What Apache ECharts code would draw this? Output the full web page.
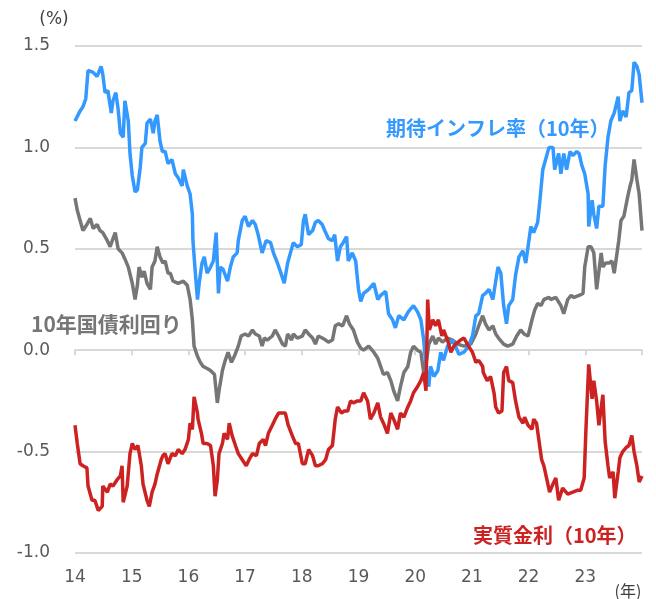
<!DOCTYPE html>
<html>
<head>
<meta charset="utf-8">
<script src="https://cdn.jsdelivr.net/npm/echarts@6/dist/echarts.min.js"></script>
<style>
  html, body { margin: 0; padding: 0; background: #fff; }
  #chart { width: 656px; height: 599px; }
</style>
</head>
<body>
<div id="chart"></div>
<script>
// 年ラベル（横軸）
var yearLabels = ['14', '15', '16', '17', '18', '19', '20', '21', '22', '23']

// 期待インフレ率（10年） [年, %]
var bei = [
  [2014.00,1.13],[2014.09,1.18],[2014.14,1.20],[2014.19,1.24],[2014.23,1.38],[2014.32,1.37],[2014.39,1.35],[2014.46,1.40],
  [2014.49,1.36],[2014.53,1.27],[2014.58,1.28],[2014.64,1.17],[2014.67,1.23],[2014.72,1.27],[2014.76,1.19],[2014.80,1.07],
  [2014.85,1.05],[2014.88,1.23],[2014.94,1.13],[2014.97,0.97],[2015.01,0.86],[2015.06,0.78],[2015.10,0.79],[2015.15,0.90],
  [2015.18,1.00],[2015.24,1.02],[2015.27,1.12],[2015.33,1.14],[2015.38,1.07],[2015.41,1.13],[2015.45,1.16],[2015.50,1.03],
  [2015.54,0.98],[2015.59,0.98],[2015.64,0.92],[2015.71,0.94],[2015.77,0.87],[2015.82,0.85],[2015.89,0.81],[2015.91,0.89],
  [2015.98,0.81],[2016.03,0.77],[2016.07,0.67],[2016.08,0.54],[2016.12,0.39],[2016.16,0.25],[2016.19,0.33],[2016.24,0.43],
  [2016.28,0.46],[2016.33,0.38],[2016.39,0.41],[2016.44,0.44],[2016.49,0.58],[2016.53,0.28],[2016.56,0.41],[2016.61,0.40],
  [2016.69,0.34],[2016.74,0.41],[2016.79,0.46],[2016.86,0.48],[2016.88,0.54],[2016.95,0.64],[2017.00,0.66],[2017.06,0.61],
  [2017.13,0.64],[2017.18,0.62],[2017.23,0.57],[2017.30,0.48],[2017.37,0.54],[2017.45,0.53],[2017.50,0.48],[2017.57,0.43],
  [2017.62,0.39],[2017.69,0.33],[2017.75,0.43],[2017.80,0.48],[2017.85,0.53],[2017.92,0.51],[2017.99,0.52],[2018.03,0.64],
  [2018.06,0.67],[2018.12,0.57],[2018.19,0.59],[2018.24,0.63],[2018.29,0.64],[2018.36,0.62],[2018.42,0.58],[2018.47,0.55],
  [2018.54,0.54],[2018.58,0.57],[2018.63,0.44],[2018.68,0.51],[2018.73,0.53],[2018.79,0.56],[2018.82,0.44],[2018.89,0.48],
  [2018.95,0.44],[2019.00,0.30],[2019.04,0.24],[2019.09,0.28],[2019.18,0.30],[2019.27,0.33],[2019.34,0.25],[2019.39,0.27],
  [2019.48,0.29],[2019.53,0.18],[2019.60,0.15],[2019.65,0.11],[2019.71,0.17],[2019.80,0.15],[2019.88,0.19],[2019.97,0.22],
  [2020.04,0.19],[2020.10,0.15],[2020.15,0.05],[2020.20,-0.11],[2020.24,-0.18],[2020.27,-0.08],[2020.33,-0.13],[2020.40,-0.10],
  [2020.45,-0.01],[2020.50,-0.05],[2020.57,0.02],[2020.66,0.05],[2020.71,0.02],[2020.77,-0.02],[2020.86,-0.01],[2020.94,0.02],
  [2021.01,0.07],[2021.07,0.17],[2021.12,0.18],[2021.19,0.27],[2021.24,0.28],[2021.30,0.30],[2021.37,0.25],[2021.42,0.34],
  [2021.46,0.41],[2021.51,0.38],[2021.56,0.22],[2021.61,0.13],[2021.65,0.22],[2021.72,0.25],[2021.77,0.37],[2021.83,0.46],
  [2021.90,0.49],[2021.95,0.43],[2021.99,0.51],[2022.04,0.61],[2022.09,0.58],[2022.16,0.63],[2022.20,0.74],[2022.25,0.89],
  [2022.30,0.94],[2022.36,1.00],[2022.43,1.00],[2022.46,0.89],[2022.53,0.97],[2022.57,0.87],[2022.62,0.97],[2022.67,0.89],
  [2022.73,0.98],[2022.78,0.96],[2022.85,0.98],[2022.89,0.97],[2022.94,0.91],[2022.99,0.87],[2023.05,0.77],[2023.06,0.61],
  [2023.12,0.74],[2023.15,0.67],[2023.20,0.60],[2023.24,0.71],[2023.31,0.71],[2023.35,0.91],[2023.40,1.05],[2023.45,1.13],
  [2023.51,1.17],[2023.58,1.25],[2023.61,1.13],[2023.66,1.18],[2023.72,1.15],[2023.77,1.27],[2023.82,1.28],[2023.86,1.42],
  [2023.91,1.40],[2023.95,1.36],[2024.00,1.22]
]

// 10年国債利回り
var jgb = [
  [2014.00,0.75],[2014.04,0.69],[2014.09,0.64],[2014.14,0.59],[2014.21,0.62],[2014.27,0.65],[2014.32,0.60],[2014.39,0.62],
  [2014.44,0.59],[2014.49,0.58],[2014.57,0.54],[2014.62,0.51],[2014.67,0.55],[2014.71,0.58],[2014.76,0.50],[2014.83,0.48],
  [2014.88,0.45],[2014.94,0.41],[2015.01,0.33],[2015.06,0.25],[2015.10,0.32],[2015.13,0.41],[2015.18,0.36],[2015.22,0.39],
  [2015.27,0.33],[2015.33,0.30],[2015.36,0.41],[2015.41,0.44],[2015.45,0.51],[2015.50,0.46],[2015.55,0.43],[2015.59,0.44],
  [2015.64,0.38],[2015.68,0.38],[2015.73,0.34],[2015.82,0.33],[2015.91,0.34],[2015.98,0.32],[2016.03,0.25],[2016.07,0.15],
  [2016.10,0.02],[2016.16,-0.03],[2016.21,-0.06],[2016.26,-0.08],[2016.33,-0.09],[2016.39,-0.10],[2016.46,-0.12],[2016.51,-0.26],
  [2016.54,-0.20],[2016.60,-0.10],[2016.65,-0.05],[2016.70,-0.01],[2016.76,-0.06],[2016.81,-0.03],[2016.88,0.02],[2016.93,0.07],
  [2017.00,0.08],[2017.06,0.07],[2017.13,0.10],[2017.18,0.08],[2017.25,0.07],[2017.30,0.02],[2017.34,0.06],[2017.39,0.05],
  [2017.48,0.07],[2017.53,0.10],[2017.59,0.07],[2017.66,0.03],[2017.71,0.02],[2017.75,0.08],[2017.82,0.05],[2017.85,0.08],
  [2017.92,0.06],[2018.01,0.07],[2018.06,0.10],[2018.12,0.08],[2018.19,0.06],[2018.24,0.03],[2018.29,0.07],[2018.36,0.06],
  [2018.42,0.05],[2018.47,0.04],[2018.54,0.05],[2018.59,0.12],[2018.65,0.13],[2018.72,0.12],[2018.79,0.17],[2018.84,0.13],
  [2018.91,0.10],[2018.98,0.04],[2019.04,0.01],[2019.09,0.00],[2019.18,0.02],[2019.27,-0.01],[2019.34,-0.04],[2019.39,-0.08],
  [2019.44,-0.12],[2019.51,-0.11],[2019.57,-0.15],[2019.62,-0.20],[2019.69,-0.25],[2019.74,-0.18],[2019.80,-0.11],[2019.87,-0.08],
  [2019.92,-0.01],[2019.97,0.02],[2020.04,0.00],[2020.10,-0.01],[2020.15,-0.11],[2020.20,-0.05],[2020.24,0.03],[2020.31,0.07],
  [2020.36,0.03],[2020.41,0.06],[2020.48,0.04],[2020.57,0.06],[2020.66,0.05],[2020.75,0.03],[2020.86,0.02],[2020.98,0.03],
  [2021.07,0.08],[2021.12,0.12],[2021.19,0.17],[2021.24,0.13],[2021.30,0.10],[2021.37,0.12],[2021.42,0.08],[2021.47,0.06],
  [2021.56,0.03],[2021.63,0.02],[2021.72,0.03],[2021.79,0.07],[2021.86,0.10],[2021.92,0.08],[2021.99,0.07],[2022.06,0.15],
  [2022.11,0.20],[2022.16,0.23],[2022.22,0.22],[2022.27,0.25],[2022.36,0.26],[2022.39,0.25],[2022.48,0.26],[2022.57,0.22],
  [2022.62,0.18],[2022.69,0.25],[2022.75,0.27],[2022.80,0.26],[2022.89,0.27],[2022.96,0.28],[2022.99,0.41],[2023.05,0.51],
  [2023.10,0.51],[2023.15,0.48],[2023.20,0.30],[2023.24,0.39],[2023.28,0.48],[2023.31,0.41],[2023.36,0.43],[2023.42,0.43],
  [2023.47,0.44],[2023.51,0.38],[2023.56,0.48],[2023.59,0.54],[2023.63,0.64],[2023.68,0.66],[2023.75,0.76],[2023.79,0.81],
  [2023.82,0.84],[2023.86,0.94],[2023.91,0.84],[2023.95,0.77],[2024.00,0.59]
]

// 実質金利（10年）
var realRate = [
  [2014.00,-0.37],[2014.04,-0.46],[2014.09,-0.56],[2014.14,-0.57],[2014.21,-0.58],[2014.23,-0.67],[2014.30,-0.74],[2014.35,-0.74],
  [2014.41,-0.79],[2014.48,-0.77],[2014.49,-0.67],[2014.57,-0.70],[2014.62,-0.66],[2014.67,-0.67],[2014.74,-0.64],[2014.80,-0.62],
  [2014.83,-0.57],[2014.85,-0.75],[2014.92,-0.67],[2014.97,-0.51],[2015.01,-0.46],[2015.06,-0.49],[2015.11,-0.47],[2015.17,-0.57],
  [2015.20,-0.66],[2015.27,-0.74],[2015.31,-0.77],[2015.36,-0.70],[2015.41,-0.66],[2015.45,-0.61],[2015.52,-0.54],[2015.55,-0.52],
  [2015.59,-0.51],[2015.64,-0.56],[2015.71,-0.51],[2015.77,-0.52],[2015.82,-0.49],[2015.89,-0.51],[2015.94,-0.49],[2016.00,-0.44],
  [2016.03,-0.36],[2016.07,-0.39],[2016.10,-0.23],[2016.16,-0.31],[2016.17,-0.34],[2016.23,-0.41],[2016.26,-0.46],[2016.33,-0.46],
  [2016.39,-0.47],[2016.44,-0.57],[2016.47,-0.72],[2016.51,-0.64],[2016.54,-0.51],[2016.60,-0.46],[2016.63,-0.41],[2016.69,-0.44],
  [2016.72,-0.36],[2016.77,-0.42],[2016.83,-0.47],[2016.88,-0.51],[2016.95,-0.54],[2017.02,-0.57],[2017.07,-0.54],[2017.13,-0.51],
  [2017.20,-0.52],[2017.25,-0.46],[2017.32,-0.44],[2017.36,-0.47],[2017.41,-0.41],[2017.48,-0.37],[2017.53,-0.34],[2017.59,-0.31],
  [2017.66,-0.31],[2017.71,-0.31],[2017.76,-0.37],[2017.83,-0.42],[2017.89,-0.46],[2017.94,-0.46],[2018.01,-0.56],[2018.06,-0.56],
  [2018.12,-0.49],[2018.19,-0.52],[2018.24,-0.57],[2018.29,-0.57],[2018.36,-0.56],[2018.42,-0.54],[2018.47,-0.49],[2018.54,-0.47],
  [2018.59,-0.34],[2018.63,-0.28],[2018.70,-0.31],[2018.75,-0.30],[2018.81,-0.30],[2018.86,-0.25],[2018.91,-0.26],[2018.98,-0.25],
  [2019.04,-0.25],[2019.09,-0.21],[2019.16,-0.25],[2019.21,-0.34],[2019.27,-0.31],[2019.34,-0.26],[2019.39,-0.33],[2019.44,-0.36],
  [2019.51,-0.41],[2019.57,-0.31],[2019.62,-0.34],[2019.69,-0.39],[2019.74,-0.31],[2019.80,-0.33],[2019.87,-0.28],[2019.92,-0.25],
  [2019.97,-0.21],[2020.04,-0.18],[2020.10,-0.15],[2020.15,-0.11],[2020.19,-0.20],[2020.22,0.25],[2020.25,0.10],[2020.31,0.15],
  [2020.36,0.12],[2020.41,0.15],[2020.47,0.07],[2020.50,0.10],[2020.57,0.05],[2020.63,-0.01],[2020.68,0.02],[2020.71,0.03],
  [2020.80,0.05],[2020.86,0.06],[2020.94,0.02],[2021.01,-0.01],[2021.07,-0.06],[2021.12,-0.05],[2021.19,-0.08],[2021.20,-0.11],
  [2021.27,-0.15],[2021.33,-0.13],[2021.39,-0.21],[2021.42,-0.28],[2021.47,-0.31],[2021.53,-0.30],[2021.56,-0.11],[2021.61,-0.08],
  [2021.65,-0.15],[2021.72,-0.16],[2021.77,-0.25],[2021.83,-0.33],[2021.90,-0.36],[2021.93,-0.33],[2021.99,-0.37],[2022.06,-0.39],
  [2022.09,-0.34],[2022.14,-0.36],[2022.18,-0.44],[2022.23,-0.54],[2022.27,-0.57],[2022.34,-0.66],[2022.37,-0.70],[2022.43,-0.66],
  [2022.48,-0.63],[2022.53,-0.74],[2022.60,-0.68],[2022.69,-0.71],[2022.78,-0.70],[2022.87,-0.69],[2022.92,-0.69],[2022.98,-0.63],
  [2023.01,-0.40],[2023.06,-0.07],[2023.12,-0.24],[2023.15,-0.15],[2023.20,-0.25],[2023.24,-0.37],[2023.31,-0.22],[2023.35,-0.45],
  [2023.40,-0.57],[2023.43,-0.63],[2023.49,-0.60],[2023.52,-0.73],[2023.58,-0.60],[2023.61,-0.53],[2023.66,-0.50],[2023.72,-0.48],
  [2023.77,-0.47],[2023.82,-0.42],[2023.86,-0.50],[2023.91,-0.57],[2023.95,-0.65],[2024.00,-0.62]
]

var chart = echarts.init(document.getElementById('chart'), null, { renderer: 'canvas' })

var axisFont = 'DejaVu Sans'
var jpFont = '"Noto Sans CJK JP", sans-serif'

chart.setOption({
  animation: false,
  grid: { left: 75, right: 14, top: 46, bottom: 46 },
  xAxis: [{
    // 0%の線と目盛り
    type: 'value', min: 2014, max: 2024, interval: 1,
    position: 'bottom',
    axisLine: { onZero: true, lineStyle: { color: '#d9d9d9', width: 2 } },
    axisTick: { show: true, length: 5, lineStyle: { color: '#d9d9d9', width: 2 } },
    axisLabel: { show: false },
    splitLine: { show: false }
  }, {
    // 下端の年ラベル
    type: 'value', min: 2014, max: 2024, interval: 1,
    position: 'bottom',
    axisLine: { show: false, onZero: false },
    axisTick: { show: false },
    splitLine: { show: false },
    axisLabel: {
      margin: 16, color: '#595959', fontSize: 17, fontFamily: axisFont,
      formatter: function (v) { return yearLabels[Math.round(v - 2014)] || '' }
    }
  }],
  yAxis: {
    type: 'value', min: -1, max: 1.5, interval: 0.5,
    axisLine: { show: false },
    axisTick: { show: false },
    splitLine: { lineStyle: { color: '#d9d9d9', width: 2 } },
    axisLabel: {
      margin: 25, color: '#595959', fontSize: 17, fontFamily: axisFont,
      formatter: function (v) { return v.toFixed(1) }
    }
  },
  graphic: [
    { type: 'text', x: 54, y: 20, style: { text: '(%)', font: '17px ' + axisFont, fill: '#404040', align: 'center', verticalAlign: 'middle' } },
    { type: 'text', x: 628, y: 591, style: { text: '(年)', font: '16px ' + jpFont, fill: '#404040', align: 'center', verticalAlign: 'middle' } },
    { type: 'text', x: 386, y: 128, style: { text: '期待インフレ率（10年）', font: 'bold 20px ' + jpFont, fill: '#3399ff', align: 'left', verticalAlign: 'middle' } },
    { type: 'text', x: 31, y: 324, style: { text: '10年国債利回り', font: 'bold 21px ' + jpFont, fill: '#767676', align: 'left', verticalAlign: 'middle' } },
    { type: 'text', x: 473, y: 535, style: { text: '実質金利（10年）', font: 'bold 20px ' + jpFont, fill: '#cc2222', align: 'left', verticalAlign: 'middle' } }
  ],
  series: [{
    name: '10年国債利回り', type: 'line', data: jgb, showSymbol: false,
    lineStyle: { color: '#767676', width: 3.5 }, itemStyle: { color: '#767676' }
  }, {
    name: '期待インフレ率（10年）', type: 'line', data: bei, showSymbol: false,
    lineStyle: { color: '#3399ff', width: 3.5 }, itemStyle: { color: '#3399ff' }
  }, {
    name: '実質金利（10年）', type: 'line', data: realRate, showSymbol: false,
    lineStyle: { color: '#cc2222', width: 3.5 }, itemStyle: { color: '#cc2222' }
  }]
})
</script>
</body>
</html>
